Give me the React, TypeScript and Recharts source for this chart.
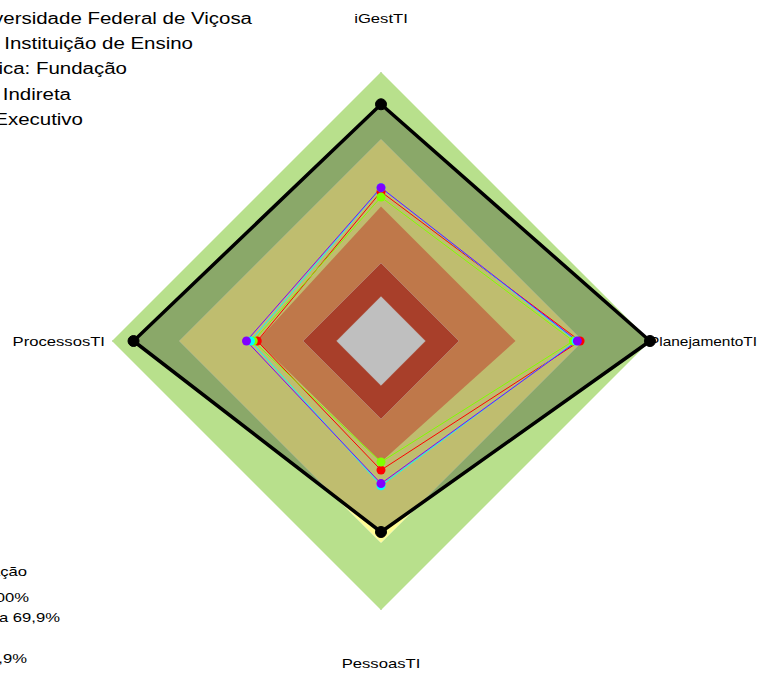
import { RadarChart, Radar, PolarGrid, PolarAngleAxis, PolarRadiusAxis } from "recharts";

const axes = ["iGestTI", "PlanejamentoTI", "PessoasTI", "ProcessosTI"];

// faixas de fundo (% do raio)
const faixaExterna = [100, 100, 100, 100];
const faixaAmarela = [75, 75, 75, 75];
const faixaVermelha = [29, 29, 29, 29];
const faixaCentro = [16.5, 16.5, 16.5, 16.5];

// series
const media = [50, 50, 45, 46];
const referencia = [88, 100, 71, 92];
const serieVermelha = [55.5, 74, 48, 46];
const serieVerde = [53.5, 71.5, 45, 47.5];
const serieCiano = [57, 72.5, 53.8, 48.5];
const serieRoxa = [57, 73, 53, 50];

const infoLinhas = [
  "Órgão: Universidade Federal de Viçosa",
  "Tipo: Instituição de Ensino",
  "Natureza Jurídica: Fundação",
  "Administração Indireta",
  "Poder Executivo",
];
const legendaLinhas = [
  "Classificação",
  "Aprimorado: 70 a 100%",
  "Intermediário: 40 a 69,9%",
  "Inexpressivo: 0 a 14,9%",
];

const data = axes.map((axis, i) => ({
  axis,
  externa: faixaExterna[i],
  amarela: faixaAmarela[i],
  vermelha: faixaVermelha[i],
  centro: faixaCentro[i],
  media: media[i],
  referencia: referencia[i],
  vermelho: serieVermelha[i],
  verde: serieVerde[i],
  ciano: serieCiano[i],
  roxo: serieRoxa[i],
}));

const FONT = "'Liberation Sans', Arial, sans-serif";
const SX = 1.28;

function Stretch({ x, y, anchor, size, width, children }: any) {
  return (
    <text
      transform={`translate(${x} ${y}) scale(${SX} 1)`}
      textAnchor={anchor}
      fontSize={size}
      fontFamily={FONT}
      fill="#000"
      textLength={width ? width / SX : undefined}
      lengthAdjust={width ? "spacingAndGlyphs" : undefined}
    >
      {children}
    </text>
  );
}

const tickOffsets: Record<string, { dx: number; dy: number; anchor: string; width?: number }> = {
  iGestTI: { dx: 0, dy: -41, anchor: "middle" },
  PlanejamentoTI: { dx: -9, dy: 5, anchor: "start", width: 108 },
  PessoasTI: { dx: 0, dy: 50, anchor: "middle" },
  ProcessosTI: { dx: 1, dy: 5, anchor: "end" },
};

function AxisTick(props: any) {
  const { x, y, payload } = props;
  const o = tickOffsets[payload.value] || { dx: 0, dy: 0, anchor: "middle" };
  return (
    <Stretch x={x + o.dx} y={y + o.dy} anchor={o.anchor} size={13} width={o.width}>
      {payload.value}
    </Stretch>
  );
}

const bandStroke = "rgba(255,255,255,0.35)";

export default function App() {
  return (
    <div style={{ position: "absolute", left: 0, top: 0, width: 762, height: 675 }}>
      <RadarChart
        width={762}
        height={675}
        data={data}
        cx={381}
        cy={341}
        outerRadius={269}
        margin={{ top: 0, right: 0, bottom: 0, left: 0 }}
      >
        <PolarRadiusAxis domain={[0, 100]} tick={false} axisLine={false} />
        <PolarAngleAxis dataKey="axis" tick={<AxisTick />} tickLine={false} axisLine={false} />
        <Radar dataKey="externa" fill="#B8E08C" fillOpacity={1} stroke="none" isAnimationActive={false} />
        <Radar dataKey="amarela" fill="#FFFD95" fillOpacity={1} stroke={bandStroke} isAnimationActive={false} />
        <Radar dataKey="media" fill="#FFA063" fillOpacity={1} stroke="none" isAnimationActive={false} />
        <Radar dataKey="vermelha" fill="#E05538" fillOpacity={1} stroke={bandStroke} isAnimationActive={false} />
        <Radar dataKey="centro" fill="#FFFFFF" fillOpacity={1} stroke={bandStroke} isAnimationActive={false} />
        <PolarGrid gridType="polygon" polarRadius={[]} stroke="#a0a0a0" strokeOpacity={0.8} />
        <Radar
          dataKey="referencia"
          fill="#000"
          fillOpacity={0.25}
          stroke="#000"
          strokeWidth={3.5}
          dot={{ r: 5.5, fill: "#000", fillOpacity: 1, stroke: "#000", strokeWidth: 1 }}
          isAnimationActive={false}
        />
        <Radar dataKey="vermelho" fill="none" stroke="#FF0000" strokeWidth={1} dot={{ r: 4.5, fill: "#FF0000", fillOpacity: 1, stroke: "none" }} isAnimationActive={false} />
        <Radar dataKey="verde" fill="none" stroke="#80FF00" strokeWidth={1} dot={{ r: 4.5, fill: "#80FF00", fillOpacity: 1, stroke: "none" }} isAnimationActive={false} />
        <Radar dataKey="ciano" fill="none" stroke="#00FFFF" strokeWidth={1} dot={{ r: 4.5, fill: "#00FFFF", fillOpacity: 1, stroke: "none" }} isAnimationActive={false} />
        <Radar dataKey="roxo" fill="none" stroke="#8000FF" strokeWidth={1} dot={{ r: 4.5, fill: "#8000FF", fillOpacity: 1, stroke: "none" }} isAnimationActive={false} />
      </RadarChart>
      <svg width={762} height={675} style={{ position: "absolute", left: 0, top: 0, pointerEvents: "none" }}>
        <Stretch x={252} y={24} anchor="end" size={16}>{infoLinhas[0]}</Stretch>
        <Stretch x={193} y={49} anchor="end" size={16}>{infoLinhas[1]}</Stretch>
        <Stretch x={127} y={74} anchor="end" size={16}>{infoLinhas[2]}</Stretch>
        <Stretch x={71} y={100} anchor="end" size={16}>{infoLinhas[3]}</Stretch>
        <Stretch x={83} y={125} anchor="end" size={16}>{infoLinhas[4]}</Stretch>
        <Stretch x={27} y={576} anchor="end" size={13}>{legendaLinhas[0]}</Stretch>
        <Stretch x={29} y={602} anchor="end" size={13}>{legendaLinhas[1]}</Stretch>
        <Stretch x={60} y={622} anchor="end" size={13}>{legendaLinhas[2]}</Stretch>
        <Stretch x={27} y={663} anchor="end" size={13}>{legendaLinhas[3]}</Stretch>
      </svg>
    </div>
  );
}
